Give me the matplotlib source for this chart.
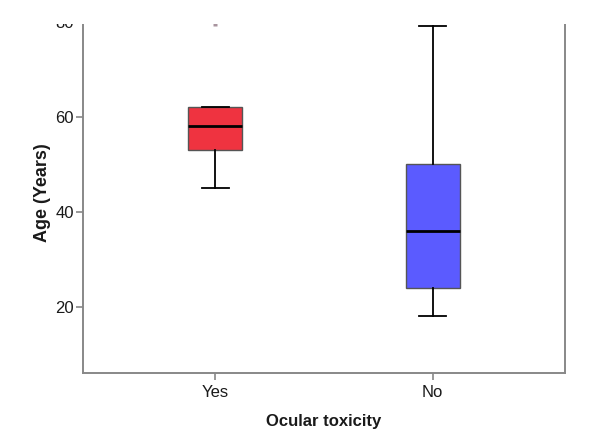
import matplotlib
matplotlib.use("Agg")
import matplotlib.pyplot as plt
from matplotlib.patches import Rectangle

plt.rcParams['font.family'] = ['Liberation Sans', 'DejaVu Sans']

# Box plot summary values
groups = ["Yes", "No"]
whisker_low = [45, 18]
q1 = [53, 24]
median = [58, 36]
q3 = [62, 50]
whisker_high = [62, 79]
outliers = [[79.6], []]
box_colors = ["#EF3340", "#5B5BFF"]

stats = []
for i, g in enumerate(groups):
    stats.append(dict(label=g, whislo=whisker_low[i], q1=q1[i], med=median[i],
                      q3=q3[i], whishi=whisker_high[i], fliers=outliers[i]))

fig = plt.figure(figsize=(5.99, 4.38), dpi=100)
ax = fig.add_axes([83/599, 1 - 373/438, (565 - 83)/599, (373 - 12.2)/438])

bp = ax.bxp(stats, positions=[1, 2], widths=0.249, patch_artist=True,
            capwidths=0.124,
            boxprops=dict(edgecolor="#555555", linewidth=1.0),
            medianprops=dict(color="black", linewidth=2.0),
            whiskerprops=dict(color="black", linewidth=1.3),
            capprops=dict(color="black", linewidth=1.3),
            flierprops=dict(marker="s", markersize=3, markerfacecolor="#a8949e",
                            markeredgecolor="none"))
for patch, c in zip(bp["boxes"], box_colors):
    patch.set_facecolor(c)

ax.set_xlim(0.39, 2.61)
ax.set_ylim(6.1, 82)
ax.set_yticks([20, 40, 60, 80])

for side in ["left", "right", "bottom", "top"]:
    ax.spines[side].set_color("#888888")
    ax.spines[side].set_linewidth(1.4)

ax.tick_params(axis="both", direction="out", length=5, width=1.2,
               color="#888888", labelsize=12, labelcolor="#1a1a1a", pad=1.5)
ax.tick_params(axis="x", pad=3.5)

ax.set_xlabel("Ocular toxicity", fontsize=12, fontweight="bold",
              color="#1a1a1a", labelpad=10)
ax.set_ylabel("Age (Years)", fontsize=13, fontweight="bold",
              color="#1a1a1a", labelpad=3)

# the original image is cropped at the top
fig.add_artist(Rectangle((0, 1 - 24/438), 1, 24/438, transform=fig.transFigure,
                         facecolor="white", edgecolor="none", zorder=10))

fig.savefig("out.png", dpi=100)
